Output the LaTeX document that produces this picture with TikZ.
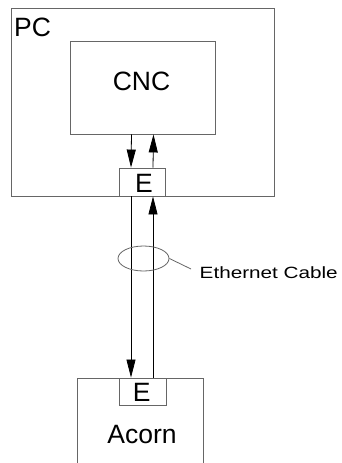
\documentclass[tikz,border=0pt]{standalone}
\usepackage{fontspec}
\setmainfont{Liberation Sans}
\usetikzlibrary{arrows.meta,shapes.geometric}
\begin{document}
\begin{tikzpicture}[x=1pt,y=-1pt,
  box/.style={draw=black!60,line width=0.9pt,inner sep=0pt},
  lbl/.style={inner sep=0pt,font=\fontsize{26.5}{30}\selectfont},
  arr/.style={draw=black,line width=0.8pt,-{Triangle[length=18pt,width=9pt]}},
  thin/.style={draw=black!60,line width=0.8pt}]
\useasboundingbox (0,0) rectangle (341,463);
\clip (0,0) rectangle (341,463);
\fill[white] (0,0) rectangle (341,463);
% boxes
\node[box,minimum width=263pt,minimum height=188pt] (pc) at (142.5,102) {};
\node[box,minimum width=145pt,minimum height=93pt] (cnc) at (142.5,87.5) {};
\node[box,fill=white,minimum width=46pt,minimum height=28pt] (etop) at (142.25,182) {};
\node[box,minimum width=126pt,minimum height=112pt] (acorn) at (140,434) {};
\node[box,minimum width=47pt,minimum height=27pt] (eac) at (142.5,391.5) {};
% labels
\node[lbl,anchor=base west] (pclbl) at (14,36) {PC};
\node[lbl,anchor=base] (cnclbl) at (141.5,90.7) {CNC};
\node[lbl,anchor=base] (etoplbl) at (144,192.7) {E};
\node[lbl,anchor=base] (eaclbl) at (141.7,401.7) {E};
\node[lbl,anchor=base] (acornlbl) at (142,443.3) {Acorn};
% arrows
\draw[arr] ([xshift=-11pt]cnc.south) -- ([xshift=-11.25pt]etop.north);
\draw[arr] ([xshift=10.75pt]etop.north) -- ([xshift=11pt]cnc.south);
\draw[arr] ([xshift=-11.25pt]etop.south) -- ([xshift=-11.5pt]eac.north);
\draw[arr] ([xshift=10.5pt]eac.north) -- ([xshift=10.75pt]etop.south);
% cable ellipse
\node[ellipse,draw=black!60,line width=0.8pt,inner sep=0pt,minimum width=51pt,minimum height=25pt] (cable) at (143.5,258.5) {};
\coordinate (lead) at (191,269);
\draw[thin] (cable.east) -- (lead);
\node[inner sep=0pt,anchor=base west] (cablelbl) at (199.5,278.3)
  {\scalebox{1.27}[1]{\fontsize{16.3}{19}\selectfont Ethernet Cable}};
\end{tikzpicture}
\end{document}
